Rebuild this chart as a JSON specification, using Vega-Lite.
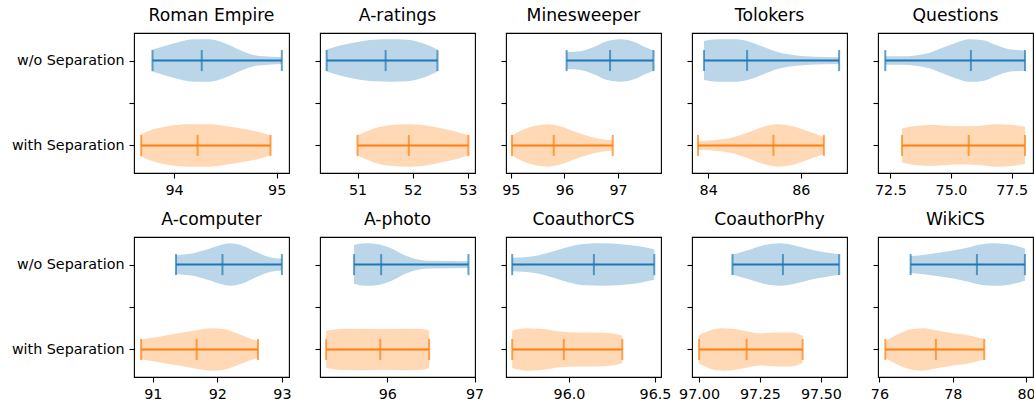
{
"$schema": "https://vega.github.io/schema/vega-lite/v6.json",
"autosize": {"type": "pad"},
"padding": {"left": 10, "top": 6, "right": 0, "bottom": 0},
"background": "white",
"datasets": {
"shape": [
{"ds":"Roman Empire","group":"w/o Separation","pos":1,"x":93.79,"w":0.13},
{"ds":"Roman Empire","group":"w/o Separation","pos":1,"x":93.9,"w":0.17},
{"ds":"Roman Empire","group":"w/o Separation","pos":1,"x":94.05,"w":0.22},
{"ds":"Roman Empire","group":"w/o Separation","pos":1,"x":94.2,"w":0.25},
{"ds":"Roman Empire","group":"w/o Separation","pos":1,"x":94.35,"w":0.25},
{"ds":"Roman Empire","group":"w/o Separation","pos":1,"x":94.5,"w":0.2},
{"ds":"Roman Empire","group":"w/o Separation","pos":1,"x":94.65,"w":0.12},
{"ds":"Roman Empire","group":"w/o Separation","pos":1,"x":94.8,"w":0.06},
{"ds":"Roman Empire","group":"w/o Separation","pos":1,"x":94.95,"w":0.045},
{"ds":"Roman Empire","group":"w/o Separation","pos":1,"x":95.05,"w":0.04},
{"ds":"Roman Empire","group":"with Separation","pos":2,"x":93.68,"w":0.13},
{"ds":"Roman Empire","group":"with Separation","pos":2,"x":93.8,"w":0.19},
{"ds":"Roman Empire","group":"with Separation","pos":2,"x":93.95,"w":0.23},
{"ds":"Roman Empire","group":"with Separation","pos":2,"x":94.15,"w":0.25},
{"ds":"Roman Empire","group":"with Separation","pos":2,"x":94.35,"w":0.25},
{"ds":"Roman Empire","group":"with Separation","pos":2,"x":94.55,"w":0.22},
{"ds":"Roman Empire","group":"with Separation","pos":2,"x":94.7,"w":0.19},
{"ds":"Roman Empire","group":"with Separation","pos":2,"x":94.85,"w":0.15},
{"ds":"Roman Empire","group":"with Separation","pos":2,"x":94.94,"w":0.12},
{"ds":"A-ratings","group":"w/o Separation","pos":1,"x":50.44,"w":0.13},
{"ds":"A-ratings","group":"w/o Separation","pos":1,"x":50.7,"w":0.18},
{"ds":"A-ratings","group":"w/o Separation","pos":1,"x":51.0,"w":0.22},
{"ds":"A-ratings","group":"w/o Separation","pos":1,"x":51.3,"w":0.245},
{"ds":"A-ratings","group":"w/o Separation","pos":1,"x":51.6,"w":0.25},
{"ds":"A-ratings","group":"w/o Separation","pos":1,"x":51.9,"w":0.245},
{"ds":"A-ratings","group":"w/o Separation","pos":1,"x":52.2,"w":0.2},
{"ds":"A-ratings","group":"w/o Separation","pos":1,"x":52.45,"w":0.13},
{"ds":"A-ratings","group":"with Separation","pos":2,"x":51.0,"w":0.12},
{"ds":"A-ratings","group":"with Separation","pos":2,"x":51.3,"w":0.2},
{"ds":"A-ratings","group":"with Separation","pos":2,"x":51.6,"w":0.24},
{"ds":"A-ratings","group":"with Separation","pos":2,"x":51.95,"w":0.25},
{"ds":"A-ratings","group":"with Separation","pos":2,"x":52.3,"w":0.23},
{"ds":"A-ratings","group":"with Separation","pos":2,"x":52.6,"w":0.19},
{"ds":"A-ratings","group":"with Separation","pos":2,"x":52.85,"w":0.15},
{"ds":"A-ratings","group":"with Separation","pos":2,"x":53.01,"w":0.12},
{"ds":"Minesweeper","group":"w/o Separation","pos":1,"x":96.04,"w":0.1},
{"ds":"Minesweeper","group":"w/o Separation","pos":1,"x":96.3,"w":0.11},
{"ds":"Minesweeper","group":"w/o Separation","pos":1,"x":96.55,"w":0.16},
{"ds":"Minesweeper","group":"w/o Separation","pos":1,"x":96.8,"w":0.23},
{"ds":"Minesweeper","group":"w/o Separation","pos":1,"x":97.05,"w":0.25},
{"ds":"Minesweeper","group":"w/o Separation","pos":1,"x":97.3,"w":0.22},
{"ds":"Minesweeper","group":"w/o Separation","pos":1,"x":97.5,"w":0.16},
{"ds":"Minesweeper","group":"w/o Separation","pos":1,"x":97.66,"w":0.12},
{"ds":"Minesweeper","group":"with Separation","pos":2,"x":95.02,"w":0.12},
{"ds":"Minesweeper","group":"with Separation","pos":2,"x":95.2,"w":0.18},
{"ds":"Minesweeper","group":"with Separation","pos":2,"x":95.45,"w":0.23},
{"ds":"Minesweeper","group":"with Separation","pos":2,"x":95.7,"w":0.25},
{"ds":"Minesweeper","group":"with Separation","pos":2,"x":95.95,"w":0.22},
{"ds":"Minesweeper","group":"with Separation","pos":2,"x":96.2,"w":0.16},
{"ds":"Minesweeper","group":"with Separation","pos":2,"x":96.5,"w":0.1},
{"ds":"Minesweeper","group":"with Separation","pos":2,"x":96.75,"w":0.07},
{"ds":"Minesweeper","group":"with Separation","pos":2,"x":96.9,"w":0.06},
{"ds":"Tolokers","group":"w/o Separation","pos":1,"x":83.91,"w":0.23},
{"ds":"Tolokers","group":"w/o Separation","pos":1,"x":84.2,"w":0.25},
{"ds":"Tolokers","group":"w/o Separation","pos":1,"x":84.6,"w":0.25},
{"ds":"Tolokers","group":"w/o Separation","pos":1,"x":84.9,"w":0.22},
{"ds":"Tolokers","group":"w/o Separation","pos":1,"x":85.2,"w":0.16},
{"ds":"Tolokers","group":"w/o Separation","pos":1,"x":85.5,"w":0.1},
{"ds":"Tolokers","group":"w/o Separation","pos":1,"x":85.9,"w":0.06},
{"ds":"Tolokers","group":"w/o Separation","pos":1,"x":86.3,"w":0.045},
{"ds":"Tolokers","group":"w/o Separation","pos":1,"x":86.83,"w":0.04},
{"ds":"Tolokers","group":"with Separation","pos":2,"x":83.78,"w":0.05},
{"ds":"Tolokers","group":"with Separation","pos":2,"x":84.1,"w":0.06},
{"ds":"Tolokers","group":"with Separation","pos":2,"x":84.5,"w":0.09},
{"ds":"Tolokers","group":"with Separation","pos":2,"x":84.9,"w":0.16},
{"ds":"Tolokers","group":"with Separation","pos":2,"x":85.2,"w":0.22},
{"ds":"Tolokers","group":"with Separation","pos":2,"x":85.5,"w":0.25},
{"ds":"Tolokers","group":"with Separation","pos":2,"x":85.8,"w":0.23},
{"ds":"Tolokers","group":"with Separation","pos":2,"x":86.1,"w":0.18},
{"ds":"Tolokers","group":"with Separation","pos":2,"x":86.3,"w":0.14},
{"ds":"Tolokers","group":"with Separation","pos":2,"x":86.5,"w":0.1},
{"ds":"Questions","group":"w/o Separation","pos":1,"x":72.29,"w":0.05},
{"ds":"Questions","group":"w/o Separation","pos":1,"x":72.97,"w":0.05},
{"ds":"Questions","group":"w/o Separation","pos":1,"x":73.53,"w":0.06},
{"ds":"Questions","group":"w/o Separation","pos":1,"x":74.09,"w":0.09},
{"ds":"Questions","group":"w/o Separation","pos":1,"x":74.65,"w":0.15},
{"ds":"Questions","group":"w/o Separation","pos":1,"x":75.21,"w":0.21},
{"ds":"Questions","group":"w/o Separation","pos":1,"x":75.76,"w":0.25},
{"ds":"Questions","group":"w/o Separation","pos":1,"x":76.32,"w":0.24},
{"ds":"Questions","group":"w/o Separation","pos":1,"x":76.88,"w":0.18},
{"ds":"Questions","group":"w/o Separation","pos":1,"x":77.44,"w":0.13},
{"ds":"Questions","group":"w/o Separation","pos":1,"x":78.05,"w":0.12},
{"ds":"Questions","group":"with Separation","pos":2,"x":72.98,"w":0.2},
{"ds":"Questions","group":"with Separation","pos":2,"x":73.53,"w":0.23},
{"ds":"Questions","group":"with Separation","pos":2,"x":74.31,"w":0.24},
{"ds":"Questions","group":"with Separation","pos":2,"x":75.21,"w":0.225},
{"ds":"Questions","group":"with Separation","pos":2,"x":76.1,"w":0.23},
{"ds":"Questions","group":"with Separation","pos":2,"x":76.88,"w":0.25},
{"ds":"Questions","group":"with Separation","pos":2,"x":77.59,"w":0.24},
{"ds":"Questions","group":"with Separation","pos":2,"x":78.05,"w":0.22},
{"ds":"A-computer","group":"w/o Separation","pos":1,"x":91.36,"w":0.11},
{"ds":"A-computer","group":"w/o Separation","pos":1,"x":91.6,"w":0.13},
{"ds":"A-computer","group":"w/o Separation","pos":1,"x":91.85,"w":0.18},
{"ds":"A-computer","group":"w/o Separation","pos":1,"x":92.05,"w":0.23},
{"ds":"A-computer","group":"w/o Separation","pos":1,"x":92.2,"w":0.25},
{"ds":"A-computer","group":"w/o Separation","pos":1,"x":92.4,"w":0.22},
{"ds":"A-computer","group":"w/o Separation","pos":1,"x":92.6,"w":0.15},
{"ds":"A-computer","group":"w/o Separation","pos":1,"x":92.8,"w":0.09},
{"ds":"A-computer","group":"w/o Separation","pos":1,"x":93.0,"w":0.07},
{"ds":"A-computer","group":"with Separation","pos":2,"x":90.82,"w":0.12},
{"ds":"A-computer","group":"with Separation","pos":2,"x":91.1,"w":0.15},
{"ds":"A-computer","group":"with Separation","pos":2,"x":91.4,"w":0.19},
{"ds":"A-computer","group":"with Separation","pos":2,"x":91.7,"w":0.23},
{"ds":"A-computer","group":"with Separation","pos":2,"x":91.9,"w":0.25},
{"ds":"A-computer","group":"with Separation","pos":2,"x":92.1,"w":0.24},
{"ds":"A-computer","group":"with Separation","pos":2,"x":92.3,"w":0.19},
{"ds":"A-computer","group":"with Separation","pos":2,"x":92.5,"w":0.13},
{"ds":"A-computer","group":"with Separation","pos":2,"x":92.63,"w":0.1},
{"ds":"A-photo","group":"w/o Separation","pos":1,"x":95.62,"w":0.23},
{"ds":"A-photo","group":"w/o Separation","pos":1,"x":95.75,"w":0.25},
{"ds":"A-photo","group":"w/o Separation","pos":1,"x":95.9,"w":0.24},
{"ds":"A-photo","group":"w/o Separation","pos":1,"x":96.05,"w":0.19},
{"ds":"A-photo","group":"w/o Separation","pos":1,"x":96.2,"w":0.11},
{"ds":"A-photo","group":"w/o Separation","pos":1,"x":96.35,"w":0.06},
{"ds":"A-photo","group":"w/o Separation","pos":1,"x":96.5,"w":0.045},
{"ds":"A-photo","group":"w/o Separation","pos":1,"x":96.93,"w":0.04},
{"ds":"A-photo","group":"with Separation","pos":2,"x":95.3,"w":0.22},
{"ds":"A-photo","group":"with Separation","pos":2,"x":95.45,"w":0.24},
{"ds":"A-photo","group":"with Separation","pos":2,"x":95.7,"w":0.245},
{"ds":"A-photo","group":"with Separation","pos":2,"x":95.95,"w":0.24},
{"ds":"A-photo","group":"with Separation","pos":2,"x":96.2,"w":0.245},
{"ds":"A-photo","group":"with Separation","pos":2,"x":96.4,"w":0.24},
{"ds":"A-photo","group":"with Separation","pos":2,"x":96.48,"w":0.22},
{"ds":"CoauthorCS","group":"w/o Separation","pos":1,"x":95.67,"w":0.08},
{"ds":"CoauthorCS","group":"w/o Separation","pos":1,"x":95.8,"w":0.1},
{"ds":"CoauthorCS","group":"w/o Separation","pos":1,"x":95.9,"w":0.15},
{"ds":"CoauthorCS","group":"w/o Separation","pos":1,"x":96.0,"w":0.21},
{"ds":"CoauthorCS","group":"w/o Separation","pos":1,"x":96.1,"w":0.245},
{"ds":"CoauthorCS","group":"w/o Separation","pos":1,"x":96.2,"w":0.25},
{"ds":"CoauthorCS","group":"w/o Separation","pos":1,"x":96.3,"w":0.24},
{"ds":"CoauthorCS","group":"w/o Separation","pos":1,"x":96.4,"w":0.22},
{"ds":"CoauthorCS","group":"w/o Separation","pos":1,"x":96.496,"w":0.18},
{"ds":"CoauthorCS","group":"with Separation","pos":2,"x":95.67,"w":0.22},
{"ds":"CoauthorCS","group":"with Separation","pos":2,"x":95.75,"w":0.25},
{"ds":"CoauthorCS","group":"with Separation","pos":2,"x":95.85,"w":0.24},
{"ds":"CoauthorCS","group":"with Separation","pos":2,"x":95.95,"w":0.21},
{"ds":"CoauthorCS","group":"with Separation","pos":2,"x":96.05,"w":0.2},
{"ds":"CoauthorCS","group":"with Separation","pos":2,"x":96.15,"w":0.2},
{"ds":"CoauthorCS","group":"with Separation","pos":2,"x":96.25,"w":0.19},
{"ds":"CoauthorCS","group":"with Separation","pos":2,"x":96.31,"w":0.16},
{"ds":"CoauthorPhy","group":"w/o Separation","pos":1,"x":97.137,"w":0.12},
{"ds":"CoauthorPhy","group":"w/o Separation","pos":1,"x":97.2,"w":0.17},
{"ds":"CoauthorPhy","group":"w/o Separation","pos":1,"x":97.27,"w":0.23},
{"ds":"CoauthorPhy","group":"w/o Separation","pos":1,"x":97.33,"w":0.25},
{"ds":"CoauthorPhy","group":"w/o Separation","pos":1,"x":97.4,"w":0.22},
{"ds":"CoauthorPhy","group":"w/o Separation","pos":1,"x":97.47,"w":0.17},
{"ds":"CoauthorPhy","group":"w/o Separation","pos":1,"x":97.53,"w":0.14},
{"ds":"CoauthorPhy","group":"w/o Separation","pos":1,"x":97.575,"w":0.12},
{"ds":"CoauthorPhy","group":"with Separation","pos":2,"x":97.0,"w":0.17},
{"ds":"CoauthorPhy","group":"with Separation","pos":2,"x":97.05,"w":0.23},
{"ds":"CoauthorPhy","group":"with Separation","pos":2,"x":97.1,"w":0.25},
{"ds":"CoauthorPhy","group":"with Separation","pos":2,"x":97.17,"w":0.23},
{"ds":"CoauthorPhy","group":"with Separation","pos":2,"x":97.25,"w":0.19},
{"ds":"CoauthorPhy","group":"with Separation","pos":2,"x":97.32,"w":0.2},
{"ds":"CoauthorPhy","group":"with Separation","pos":2,"x":97.38,"w":0.2},
{"ds":"CoauthorPhy","group":"with Separation","pos":2,"x":97.425,"w":0.16},
{"ds":"WikiCS","group":"w/o Separation","pos":1,"x":76.85,"w":0.1},
{"ds":"WikiCS","group":"w/o Separation","pos":1,"x":77.3,"w":0.12},
{"ds":"WikiCS","group":"w/o Separation","pos":1,"x":77.8,"w":0.15},
{"ds":"WikiCS","group":"w/o Separation","pos":1,"x":78.3,"w":0.19},
{"ds":"WikiCS","group":"w/o Separation","pos":1,"x":78.8,"w":0.24},
{"ds":"WikiCS","group":"w/o Separation","pos":1,"x":79.1,"w":0.25},
{"ds":"WikiCS","group":"w/o Separation","pos":1,"x":79.5,"w":0.24},
{"ds":"WikiCS","group":"w/o Separation","pos":1,"x":79.97,"w":0.19},
{"ds":"WikiCS","group":"with Separation","pos":2,"x":76.16,"w":0.1},
{"ds":"WikiCS","group":"with Separation","pos":2,"x":76.5,"w":0.18},
{"ds":"WikiCS","group":"with Separation","pos":2,"x":76.9,"w":0.24},
{"ds":"WikiCS","group":"with Separation","pos":2,"x":77.2,"w":0.25},
{"ds":"WikiCS","group":"with Separation","pos":2,"x":77.6,"w":0.22},
{"ds":"WikiCS","group":"with Separation","pos":2,"x":78.0,"w":0.19},
{"ds":"WikiCS","group":"with Separation","pos":2,"x":78.4,"w":0.17},
{"ds":"WikiCS","group":"with Separation","pos":2,"x":78.86,"w":0.12}
],
"stats": [
{"ds":"Roman Empire","group":"w/o Separation","pos":1,"min":93.79,"mean":94.27,"max":95.05},
{"ds":"Roman Empire","group":"with Separation","pos":2,"min":93.68,"mean":94.23,"max":94.94},
{"ds":"A-ratings","group":"w/o Separation","pos":1,"min":50.44,"mean":51.51,"max":52.45},
{"ds":"A-ratings","group":"with Separation","pos":2,"min":51.0,"mean":51.93,"max":53.01},
{"ds":"Minesweeper","group":"w/o Separation","pos":1,"min":96.04,"mean":96.85,"max":97.66},
{"ds":"Minesweeper","group":"with Separation","pos":2,"min":95.02,"mean":95.8,"max":96.9},
{"ds":"Tolokers","group":"w/o Separation","pos":1,"min":83.91,"mean":84.84,"max":86.83},
{"ds":"Tolokers","group":"with Separation","pos":2,"min":83.78,"mean":85.41,"max":86.5},
{"ds":"Questions","group":"w/o Separation","pos":1,"min":72.29,"mean":75.82,"max":78.05},
{"ds":"Questions","group":"with Separation","pos":2,"min":72.98,"mean":75.73,"max":78.05},
{"ds":"A-computer","group":"w/o Separation","pos":1,"min":91.36,"mean":92.08,"max":93.0},
{"ds":"A-computer","group":"with Separation","pos":2,"min":90.82,"mean":91.68,"max":92.63},
{"ds":"A-photo","group":"w/o Separation","pos":1,"min":95.62,"mean":95.93,"max":96.93},
{"ds":"A-photo","group":"with Separation","pos":2,"min":95.3,"mean":95.92,"max":96.48},
{"ds":"CoauthorCS","group":"w/o Separation","pos":1,"min":95.67,"mean":96.145,"max":96.496},
{"ds":"CoauthorCS","group":"with Separation","pos":2,"min":95.67,"mean":95.97,"max":96.31},
{"ds":"CoauthorPhy","group":"w/o Separation","pos":1,"min":97.137,"mean":97.344,"max":97.575},
{"ds":"CoauthorPhy","group":"with Separation","pos":2,"min":97.0,"mean":97.195,"max":97.425},
{"ds":"WikiCS","group":"w/o Separation","pos":1,"min":76.85,"mean":78.66,"max":79.97},
{"ds":"WikiCS","group":"with Separation","pos":2,"min":76.16,"mean":77.54,"max":78.86}
]
},
"columns": 5,
"spacing": {"row": 64, "column": 31},
"bounds": "flush",
"concat": [
{"title":"Roman Empire","width":155,"height":140,"layer":[
{"data":{"name":"shape"},"transform":[{"filter":"datum.ds==='Roman Empire'"},{"calculate":"datum.pos-datum.w","as":"lo"},{"calculate":"datum.pos+datum.w","as":"hi"}],"mark":{"type":"area","orient":"vertical","opacity":0.3,"interpolate":"monotone"},"encoding":{"x":{"field":"x","type":"quantitative","scale":{"domain":[93.61,95.12],"nice":false,"zero":false},"axis":{"title":null,"values":[94,95],"format":"d"}},"y":{"field":"lo","type":"quantitative","scale":{"domain":[0.675,2.325],"reverse":true,"nice":false,"zero":false},"axis":{"title":null,"values":[1,1.5,2],"labelExpr":"datum.value==1?'w/o Separation':datum.value==2?'with Separation':''"}},"y2":{"field":"hi"},"color":{"field":"group","type":"nominal","scale":{"domain":["w/o Separation","with Separation"],"range":["#1f77b4","#ff7f0e"]},"legend":null}}},
{"data":{"name":"stats"},"transform":[{"filter":"datum.ds==='Roman Empire'"}],"mark":{"type":"rule","strokeWidth":2},"encoding":{"x":{"field":"min","type":"quantitative"},"x2":{"field":"max"},"y":{"field":"pos","type":"quantitative"},"color":{"field":"group","type":"nominal","legend":null}}},
{"data":{"name":"stats"},"transform":[{"filter":"datum.ds==='Roman Empire'"},{"fold":["min","mean","max"]}],"mark":{"type":"tick","orient":"vertical","size":21,"thickness":2},"encoding":{"x":{"field":"value","type":"quantitative"},"y":{"field":"pos","type":"quantitative"},"color":{"field":"group","type":"nominal","legend":null}}}
]},
{"title":"A-ratings","width":155,"height":140,"layer":[
{"data":{"name":"shape"},"transform":[{"filter":"datum.ds==='A-ratings'"},{"calculate":"datum.pos-datum.w","as":"lo"},{"calculate":"datum.pos+datum.w","as":"hi"}],"mark":{"type":"area","orient":"vertical","opacity":0.3,"interpolate":"monotone"},"encoding":{"x":{"field":"x","type":"quantitative","scale":{"domain":[50.32,53.13],"nice":false,"zero":false},"axis":{"title":null,"values":[51,52,53],"format":"d"}},"y":{"field":"lo","type":"quantitative","scale":{"domain":[0.675,2.325],"reverse":true,"nice":false,"zero":false},"axis":{"title":null,"values":[1,1.5,2],"labels":false}},"y2":{"field":"hi"},"color":{"field":"group","type":"nominal","legend":null}}},
{"data":{"name":"stats"},"transform":[{"filter":"datum.ds==='A-ratings'"}],"mark":{"type":"rule","strokeWidth":2},"encoding":{"x":{"field":"min","type":"quantitative"},"x2":{"field":"max"},"y":{"field":"pos","type":"quantitative"},"color":{"field":"group","type":"nominal","legend":null}}},
{"data":{"name":"stats"},"transform":[{"filter":"datum.ds==='A-ratings'"},{"fold":["min","mean","max"]}],"mark":{"type":"tick","orient":"vertical","size":21,"thickness":2},"encoding":{"x":{"field":"value","type":"quantitative"},"y":{"field":"pos","type":"quantitative"},"color":{"field":"group","type":"nominal","legend":null}}}
]},
{"title":"Minesweeper","width":155,"height":140,"layer":[
{"data":{"name":"shape"},"transform":[{"filter":"datum.ds==='Minesweeper'"},{"calculate":"datum.pos-datum.w","as":"lo"},{"calculate":"datum.pos+datum.w","as":"hi"}],"mark":{"type":"area","orient":"vertical","opacity":0.3,"interpolate":"monotone"},"encoding":{"x":{"field":"x","type":"quantitative","scale":{"domain":[94.91,97.8],"nice":false,"zero":false},"axis":{"title":null,"values":[95,96,97],"format":"d"}},"y":{"field":"lo","type":"quantitative","scale":{"domain":[0.675,2.325],"reverse":true,"nice":false,"zero":false},"axis":{"title":null,"values":[1,1.5,2],"labels":false}},"y2":{"field":"hi"},"color":{"field":"group","type":"nominal","legend":null}}},
{"data":{"name":"stats"},"transform":[{"filter":"datum.ds==='Minesweeper'"}],"mark":{"type":"rule","strokeWidth":2},"encoding":{"x":{"field":"min","type":"quantitative"},"x2":{"field":"max"},"y":{"field":"pos","type":"quantitative"},"color":{"field":"group","type":"nominal","legend":null}}},
{"data":{"name":"stats"},"transform":[{"filter":"datum.ds==='Minesweeper'"},{"fold":["min","mean","max"]}],"mark":{"type":"tick","orient":"vertical","size":21,"thickness":2},"encoding":{"x":{"field":"value","type":"quantitative"},"y":{"field":"pos","type":"quantitative"},"color":{"field":"group","type":"nominal","legend":null}}}
]},
{"title":"Tolokers","width":155,"height":140,"layer":[
{"data":{"name":"shape"},"transform":[{"filter":"datum.ds==='Tolokers'"},{"calculate":"datum.pos-datum.w","as":"lo"},{"calculate":"datum.pos+datum.w","as":"hi"}],"mark":{"type":"area","orient":"vertical","opacity":0.3,"interpolate":"monotone"},"encoding":{"x":{"field":"x","type":"quantitative","scale":{"domain":[83.65,87.0],"nice":false,"zero":false},"axis":{"title":null,"values":[84,86],"format":"d"}},"y":{"field":"lo","type":"quantitative","scale":{"domain":[0.675,2.325],"reverse":true,"nice":false,"zero":false},"axis":{"title":null,"values":[1,1.5,2],"labels":false}},"y2":{"field":"hi"},"color":{"field":"group","type":"nominal","legend":null}}},
{"data":{"name":"stats"},"transform":[{"filter":"datum.ds==='Tolokers'"}],"mark":{"type":"rule","strokeWidth":2},"encoding":{"x":{"field":"min","type":"quantitative"},"x2":{"field":"max"},"y":{"field":"pos","type":"quantitative"},"color":{"field":"group","type":"nominal","legend":null}}},
{"data":{"name":"stats"},"transform":[{"filter":"datum.ds==='Tolokers'"},{"fold":["min","mean","max"]}],"mark":{"type":"tick","orient":"vertical","size":21,"thickness":2},"encoding":{"x":{"field":"value","type":"quantitative"},"y":{"field":"pos","type":"quantitative"},"color":{"field":"group","type":"nominal","legend":null}}}
]},
{"title":"Questions","width":155,"height":140,"layer":[
{"data":{"name":"shape"},"transform":[{"filter":"datum.ds==='Questions'"},{"calculate":"datum.pos-datum.w","as":"lo"},{"calculate":"datum.pos+datum.w","as":"hi"}],"mark":{"type":"area","orient":"vertical","opacity":0.3,"interpolate":"monotone"},"encoding":{"x":{"field":"x","type":"quantitative","scale":{"domain":[71.99,78.38],"nice":false,"zero":false},"axis":{"title":null,"values":[72.5,75,77.5],"format":".1f"}},"y":{"field":"lo","type":"quantitative","scale":{"domain":[0.675,2.325],"reverse":true,"nice":false,"zero":false},"axis":{"title":null,"values":[1,1.5,2],"labels":false}},"y2":{"field":"hi"},"color":{"field":"group","type":"nominal","legend":null}}},
{"data":{"name":"stats"},"transform":[{"filter":"datum.ds==='Questions'"}],"mark":{"type":"rule","strokeWidth":2},"encoding":{"x":{"field":"min","type":"quantitative"},"x2":{"field":"max"},"y":{"field":"pos","type":"quantitative"},"color":{"field":"group","type":"nominal","legend":null}}},
{"data":{"name":"stats"},"transform":[{"filter":"datum.ds==='Questions'"},{"fold":["min","mean","max"]}],"mark":{"type":"tick","orient":"vertical","size":21,"thickness":2},"encoding":{"x":{"field":"value","type":"quantitative"},"y":{"field":"pos","type":"quantitative"},"color":{"field":"group","type":"nominal","legend":null}}}
]},
{"title":"A-computer","width":155,"height":140,"layer":[
{"data":{"name":"shape"},"transform":[{"filter":"datum.ds==='A-computer'"},{"calculate":"datum.pos-datum.w","as":"lo"},{"calculate":"datum.pos+datum.w","as":"hi"}],"mark":{"type":"area","orient":"vertical","opacity":0.3,"interpolate":"monotone"},"encoding":{"x":{"field":"x","type":"quantitative","scale":{"domain":[90.71,93.11],"nice":false,"zero":false},"axis":{"title":null,"values":[91,92,93],"format":"d"}},"y":{"field":"lo","type":"quantitative","scale":{"domain":[0.675,2.325],"reverse":true,"nice":false,"zero":false},"axis":{"title":null,"values":[1,1.5,2],"labelExpr":"datum.value==1?'w/o Separation':datum.value==2?'with Separation':''"}},"y2":{"field":"hi"},"color":{"field":"group","type":"nominal","legend":null}}},
{"data":{"name":"stats"},"transform":[{"filter":"datum.ds==='A-computer'"}],"mark":{"type":"rule","strokeWidth":2},"encoding":{"x":{"field":"min","type":"quantitative"},"x2":{"field":"max"},"y":{"field":"pos","type":"quantitative"},"color":{"field":"group","type":"nominal","legend":null}}},
{"data":{"name":"stats"},"transform":[{"filter":"datum.ds==='A-computer'"},{"fold":["min","mean","max"]}],"mark":{"type":"tick","orient":"vertical","size":21,"thickness":2},"encoding":{"x":{"field":"value","type":"quantitative"},"y":{"field":"pos","type":"quantitative"},"color":{"field":"group","type":"nominal","legend":null}}}
]},
{"title":"A-photo","width":155,"height":140,"layer":[
{"data":{"name":"shape"},"transform":[{"filter":"datum.ds==='A-photo'"},{"calculate":"datum.pos-datum.w","as":"lo"},{"calculate":"datum.pos+datum.w","as":"hi"}],"mark":{"type":"area","orient":"vertical","opacity":0.3,"interpolate":"monotone"},"encoding":{"x":{"field":"x","type":"quantitative","scale":{"domain":[95.23,97.005],"nice":false,"zero":false},"axis":{"title":null,"values":[96,97],"format":"d"}},"y":{"field":"lo","type":"quantitative","scale":{"domain":[0.675,2.325],"reverse":true,"nice":false,"zero":false},"axis":{"title":null,"values":[1,1.5,2],"labels":false}},"y2":{"field":"hi"},"color":{"field":"group","type":"nominal","legend":null}}},
{"data":{"name":"stats"},"transform":[{"filter":"datum.ds==='A-photo'"}],"mark":{"type":"rule","strokeWidth":2},"encoding":{"x":{"field":"min","type":"quantitative"},"x2":{"field":"max"},"y":{"field":"pos","type":"quantitative"},"color":{"field":"group","type":"nominal","legend":null}}},
{"data":{"name":"stats"},"transform":[{"filter":"datum.ds==='A-photo'"},{"fold":["min","mean","max"]}],"mark":{"type":"tick","orient":"vertical","size":21,"thickness":2},"encoding":{"x":{"field":"value","type":"quantitative"},"y":{"field":"pos","type":"quantitative"},"color":{"field":"group","type":"nominal","legend":null}}}
]},
{"title":"CoauthorCS","width":155,"height":140,"layer":[
{"data":{"name":"shape"},"transform":[{"filter":"datum.ds==='CoauthorCS'"},{"calculate":"datum.pos-datum.w","as":"lo"},{"calculate":"datum.pos+datum.w","as":"hi"}],"mark":{"type":"area","orient":"vertical","opacity":0.3,"interpolate":"monotone"},"encoding":{"x":{"field":"x","type":"quantitative","scale":{"domain":[95.634,96.535],"nice":false,"zero":false},"axis":{"title":null,"values":[96.0,96.5],"format":".1f"}},"y":{"field":"lo","type":"quantitative","scale":{"domain":[0.675,2.325],"reverse":true,"nice":false,"zero":false},"axis":{"title":null,"values":[1,1.5,2],"labels":false}},"y2":{"field":"hi"},"color":{"field":"group","type":"nominal","legend":null}}},
{"data":{"name":"stats"},"transform":[{"filter":"datum.ds==='CoauthorCS'"}],"mark":{"type":"rule","strokeWidth":2},"encoding":{"x":{"field":"min","type":"quantitative"},"x2":{"field":"max"},"y":{"field":"pos","type":"quantitative"},"color":{"field":"group","type":"nominal","legend":null}}},
{"data":{"name":"stats"},"transform":[{"filter":"datum.ds==='CoauthorCS'"},{"fold":["min","mean","max"]}],"mark":{"type":"tick","orient":"vertical","size":21,"thickness":2},"encoding":{"x":{"field":"value","type":"quantitative"},"y":{"field":"pos","type":"quantitative"},"color":{"field":"group","type":"nominal","legend":null}}}
]},
{"title":"CoauthorPhy","width":155,"height":140,"layer":[
{"data":{"name":"shape"},"transform":[{"filter":"datum.ds==='CoauthorPhy'"},{"calculate":"datum.pos-datum.w","as":"lo"},{"calculate":"datum.pos+datum.w","as":"hi"}],"mark":{"type":"area","orient":"vertical","opacity":0.3,"interpolate":"monotone"},"encoding":{"x":{"field":"x","type":"quantitative","scale":{"domain":[96.971,97.607],"nice":false,"zero":false},"axis":{"title":null,"values":[97.0,97.25,97.5],"format":".2f"}},"y":{"field":"lo","type":"quantitative","scale":{"domain":[0.675,2.325],"reverse":true,"nice":false,"zero":false},"axis":{"title":null,"values":[1,1.5,2],"labels":false}},"y2":{"field":"hi"},"color":{"field":"group","type":"nominal","legend":null}}},
{"data":{"name":"stats"},"transform":[{"filter":"datum.ds==='CoauthorPhy'"}],"mark":{"type":"rule","strokeWidth":2},"encoding":{"x":{"field":"min","type":"quantitative"},"x2":{"field":"max"},"y":{"field":"pos","type":"quantitative"},"color":{"field":"group","type":"nominal","legend":null}}},
{"data":{"name":"stats"},"transform":[{"filter":"datum.ds==='CoauthorPhy'"},{"fold":["min","mean","max"]}],"mark":{"type":"tick","orient":"vertical","size":21,"thickness":2},"encoding":{"x":{"field":"value","type":"quantitative"},"y":{"field":"pos","type":"quantitative"},"color":{"field":"group","type":"nominal","legend":null}}}
]},
{"title":"WikiCS","width":155,"height":140,"layer":[
{"data":{"name":"shape"},"transform":[{"filter":"datum.ds==='WikiCS'"},{"calculate":"datum.pos-datum.w","as":"lo"},{"calculate":"datum.pos+datum.w","as":"hi"}],"mark":{"type":"area","orient":"vertical","opacity":0.3,"interpolate":"monotone"},"encoding":{"x":{"field":"x","type":"quantitative","scale":{"domain":[75.96,80.19],"nice":false,"zero":false},"axis":{"title":null,"values":[76,78,80],"format":"d"}},"y":{"field":"lo","type":"quantitative","scale":{"domain":[0.675,2.325],"reverse":true,"nice":false,"zero":false},"axis":{"title":null,"values":[1,1.5,2],"labels":false}},"y2":{"field":"hi"},"color":{"field":"group","type":"nominal","legend":null}}},
{"data":{"name":"stats"},"transform":[{"filter":"datum.ds==='WikiCS'"}],"mark":{"type":"rule","strokeWidth":2},"encoding":{"x":{"field":"min","type":"quantitative"},"x2":{"field":"max"},"y":{"field":"pos","type":"quantitative"},"color":{"field":"group","type":"nominal","legend":null}}},
{"data":{"name":"stats"},"transform":[{"filter":"datum.ds==='WikiCS'"},{"fold":["min","mean","max"]}],"mark":{"type":"tick","orient":"vertical","size":21,"thickness":2},"encoding":{"x":{"field":"value","type":"quantitative"},"y":{"field":"pos","type":"quantitative"},"color":{"field":"group","type":"nominal","legend":null}}}
]}
],
"config": {
"view": {"stroke": "#000000", "strokeWidth": 1.1},
"axis": {"grid": false, "domain": false, "tickColor": "#000000", "tickSize": 5, "tickWidth": 1.1, "labelFont": "DejaVu Sans", "labelFontSize": 14.3, "labelColor": "#000000", "labelPadding": 5, "labelFlush": false, "labelOverlap": false},
"title": {"font": "DejaVu Sans", "fontSize": 17.2, "fontWeight": "normal", "color": "#000000", "offset": 9, "baseline": "alphabetic"}
}
}
